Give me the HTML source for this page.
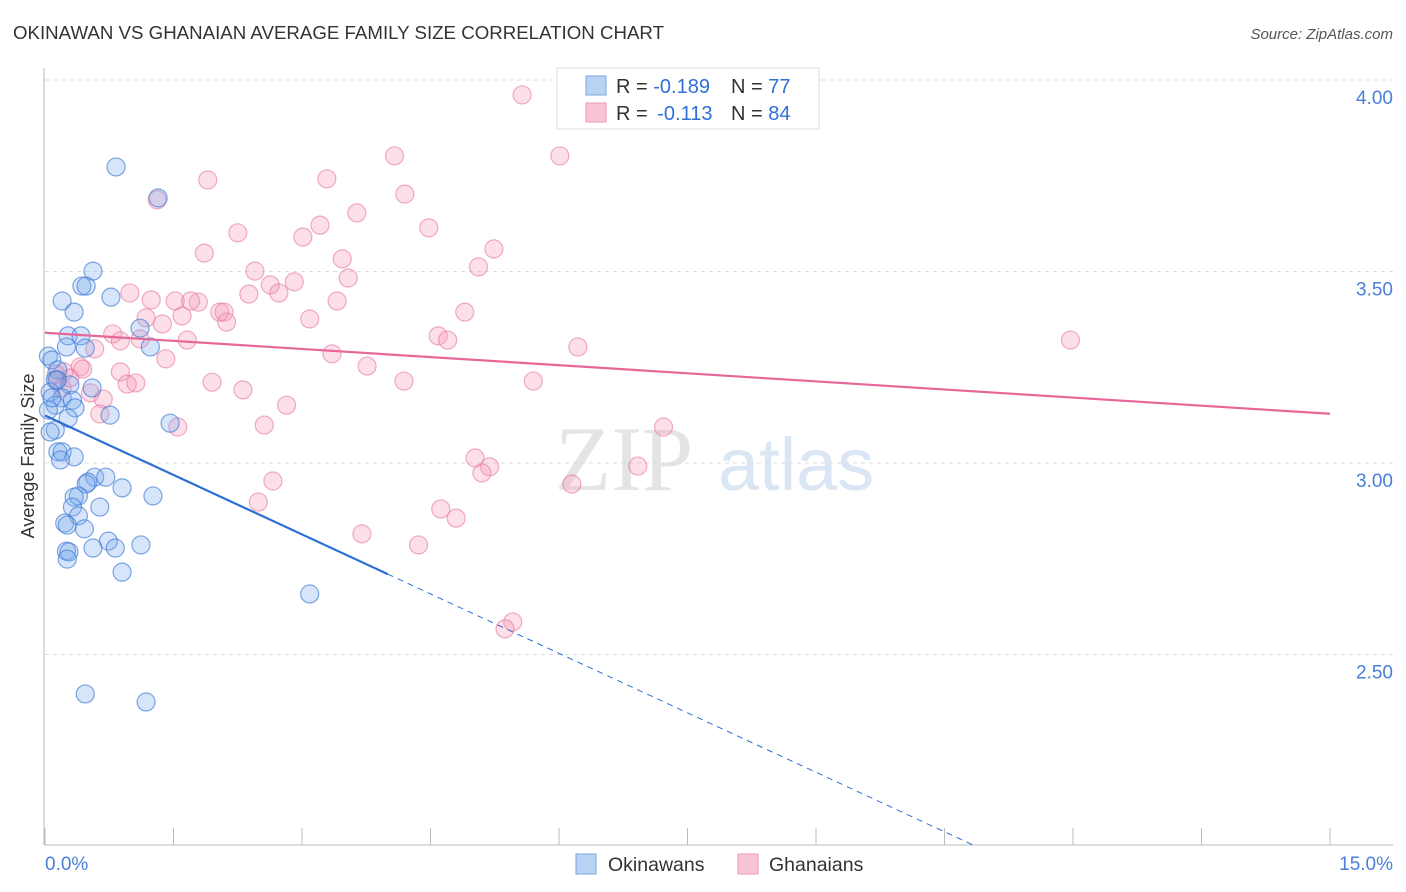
<!DOCTYPE html>
<html><head><meta charset="utf-8"><style>
body{margin:0;background:#fff;font-family:"Liberation Sans",sans-serif;}
svg{display:block}
</style></head><body>
<svg id="chart" width="1406" height="892" viewBox="0 0 1406 892">
<text x="13" y="39" font-size="18" fill="#333" textLength="651" lengthAdjust="spacingAndGlyphs">OKINAWAN VS GHANAIAN AVERAGE FAMILY SIZE CORRELATION CHART</text>
<text x="1393" y="39" font-size="15" fill="#555" font-style="italic" text-anchor="end">Source: ZipAtlas.com</text>
<g>
<text x="555" y="490" font-family="Liberation Serif,serif" font-size="92" fill="#e4e4e4">ZIP</text>
<text x="718" y="490" font-size="74" fill="#dbe6f4">atlas</text>
</g>
<g id="grid"></g>
<g id="axes"></g>
<g id="pts"></g>
<g id="trends"></g>
<text transform="translate(34,456) rotate(-90)" font-size="18" fill="#333" text-anchor="middle">Average Family Size</text>
<g>
<rect x="557" y="68" width="262" height="61" fill="#fff" stroke="#ddd"/>
<rect x="586" y="76" width="20" height="19" fill="#b8d2f4" stroke="#7aa6e2"/>
<rect x="586" y="103" width="20" height="19" fill="#f9c4d4" stroke="#eb97b2"/>
<text x="616" y="93" font-size="20" fill="#333">R = <tspan fill="#2f6fd6">-0.189</tspan><tspan x="731">N = </tspan><tspan fill="#2f6fd6">77</tspan></text>
<text x="616" y="120" font-size="20" fill="#333">R = <tspan fill="#2f6fd6" dx="4">-0.113</tspan><tspan x="731">N = </tspan><tspan fill="#2f6fd6">84</tspan></text>
</g>
<g>
<rect x="576" y="854" width="20" height="20" fill="#b8d2f4" stroke="#7aa6e2"/>
<text x="608" y="871" font-size="19.5" fill="#333">Okinawans</text>
<rect x="738" y="854" width="20" height="20" fill="#f9c4d4" stroke="#eb97b2"/>
<text x="769" y="871" font-size="19.5" fill="#333">Ghanaians</text>
</g>
</svg>
<script>
const xTickVals=[0,1.5,3,4.5,6,7.5,9,10.5,12,13.5,15];
const yTickVals=[4.0,3.5,3.0,2.5];
const yTickLabels=["4.00","3.50","3.00","2.50"];
const xEndLabels=["0.0%","15.0%"];
const blueX=[0.83,1.32,0.56,0.43,0.48,0.77,0.20,0.34,0.27,0.42,1.11,1.23,0.47,0.25,0.04,0.08,0.15,0.12,0.29,0.55,0.06,0.20,0.32,0.12,0.35,0.04,0.27,0.76,1.46,0.12,0.06,0.15,0.20,0.34,0.18,0.58,0.71,0.50,0.48,0.90,0.39,0.34,1.26,0.64,0.32,0.39,0.23,0.26,0.46,0.74,1.12,0.56,0.82,0.25,0.28,0.26,0.90,3.09,0.47,1.18,0.14,0.08];
const blueY=[3.773,3.692,3.501,3.462,3.462,3.433,3.423,3.394,3.332,3.332,3.352,3.303,3.300,3.303,3.279,3.269,3.243,3.217,3.204,3.196,3.185,3.170,3.164,3.151,3.144,3.138,3.117,3.125,3.104,3.086,3.081,3.029,3.029,3.016,3.008,2.963,2.963,2.950,2.945,2.935,2.914,2.911,2.914,2.885,2.885,2.862,2.843,2.838,2.828,2.796,2.786,2.778,2.778,2.770,2.768,2.749,2.715,2.658,2.397,2.376,3.217,3.170];
const pinkX=[5.57,4.08,6.01,1.90,3.29,1.31,4.20,3.64,3.21,2.25,4.48,3.01,1.86,5.24,3.47,2.45,5.06,3.54,2.91,2.63,2.73,2.38,0.99,1.24,1.52,1.79,1.70,3.41,1.60,1.18,2.04,2.09,2.12,3.09,4.90,1.37,0.79,4.59,4.70,1.66,11.97,0.88,1.11,6.22,0.58,3.35,1.41,3.76,0.41,0.88,0.22,0.44,0.13,4.19,5.70,1.95,0.96,1.06,2.31,0.53,0.68,2.82,0.64,2.56,1.55,7.22,5.02,5.19,5.10,6.92,2.66,6.15,2.49,4.62,4.80,3.70,4.36,5.46,5.37,0.15,0.20,0.29];
const pinkY=[3.961,3.802,3.802,3.739,3.742,3.687,3.702,3.653,3.621,3.601,3.614,3.590,3.548,3.559,3.533,3.501,3.512,3.483,3.473,3.465,3.444,3.441,3.444,3.426,3.423,3.420,3.423,3.423,3.384,3.379,3.394,3.394,3.368,3.376,3.394,3.363,3.337,3.332,3.321,3.321,3.321,3.319,3.324,3.303,3.298,3.285,3.272,3.253,3.251,3.238,3.238,3.245,3.232,3.214,3.214,3.211,3.206,3.209,3.191,3.183,3.167,3.151,3.128,3.099,3.094,3.094,3.013,2.990,2.974,2.992,2.953,2.945,2.898,2.880,2.856,2.815,2.786,2.585,2.567,3.217,3.196,3.222];
const blueTrend=[3.124,-0.1035];
const pinkTrend=[3.340,-0.0141];
const blueSolidEnd=[4.0];

const NS="http://www.w3.org/2000/svg";
const X=v=>45+v/15*1285;
const Y=v=>80+(4-v)*383;
function mk(tag,attrs,parent){const e=document.createElementNS(NS,tag);for(const k in attrs)e.setAttribute(k,attrs[k]);document.getElementById(parent).appendChild(e);return e;}
yTickVals.forEach((v,i)=>{
  const g=mk('line',{x1:45,x2:1393,y1:Y(v),y2:Y(v),stroke:'#ddd','stroke-dasharray':'4,4'},'grid');
  
  
  const t=mk('text',{x:1393,y:Y(v)+24,'font-size':19,fill:'#4a7fd8','text-anchor':'end'},'axes');
  t.textContent=yTickLabels[i];
  
  
});
const la=mk('line',{x1:44,x2:44,y1:68,y2:845,stroke:'#bbb'},'axes');


const ba=mk('line',{x1:45,x2:1393,y1:845,y2:845,stroke:'#bbb'},'axes');


xTickVals.forEach(v=>{
  const t=mk('line',{x1:X(v),x2:X(v),y1:828,y2:845,stroke:'#bbb'},'axes');
  
  
});
const l0=mk('text',{x:45,y:870,'font-size':19,fill:'#4a7fd8'},'axes');l0.textContent=xEndLabels[0];


const l1=mk('text',{x:1393,y:870,'font-size':19,fill:'#4a7fd8','text-anchor':'end'},'axes');l1.textContent=xEndLabels[1];


pinkX.forEach((x,i)=>{
  const c=mk('circle',{cx:X(x),cy:Y(pinkY[i]),r:9,fill:'rgba(244,150,180,0.3)',stroke:'rgba(230,120,160,0.6)','stroke-width':1.2},'pts');
  
  
});
blueX.forEach((x,i)=>{
  const c=mk('circle',{cx:X(x),cy:Y(blueY[i]),r:9,fill:'rgba(120,170,235,0.3)',stroke:'rgba(60,120,215,0.65)','stroke-width':1.2},'pts');
  
  
});
const bf=x=>blueTrend[0]+blueTrend[1]*x;
const xEndDash=(2.0-blueTrend[0])/blueTrend[1];
const b1=mk('line',{x1:X(0),y1:Y(bf(0)),x2:X(blueSolidEnd[0]),y2:Y(bf(blueSolidEnd[0])),stroke:'#2a6fd6','stroke-width':2.2},'trends');


const b2=mk('line',{x1:X(blueSolidEnd[0]),y1:Y(bf(blueSolidEnd[0])),x2:X(xEndDash),y2:Y(bf(xEndDash)),stroke:'#2a6fd6','stroke-width':1,'stroke-dasharray':'6,5'},'trends');


const pf=x=>pinkTrend[0]+pinkTrend[1]*x;
const p1=mk('line',{x1:X(0),y1:Y(pf(0)),x2:X(15),y2:Y(pf(15)),stroke:'#e8679a','stroke-width':2.2},'trends');


</script>
</body></html>
